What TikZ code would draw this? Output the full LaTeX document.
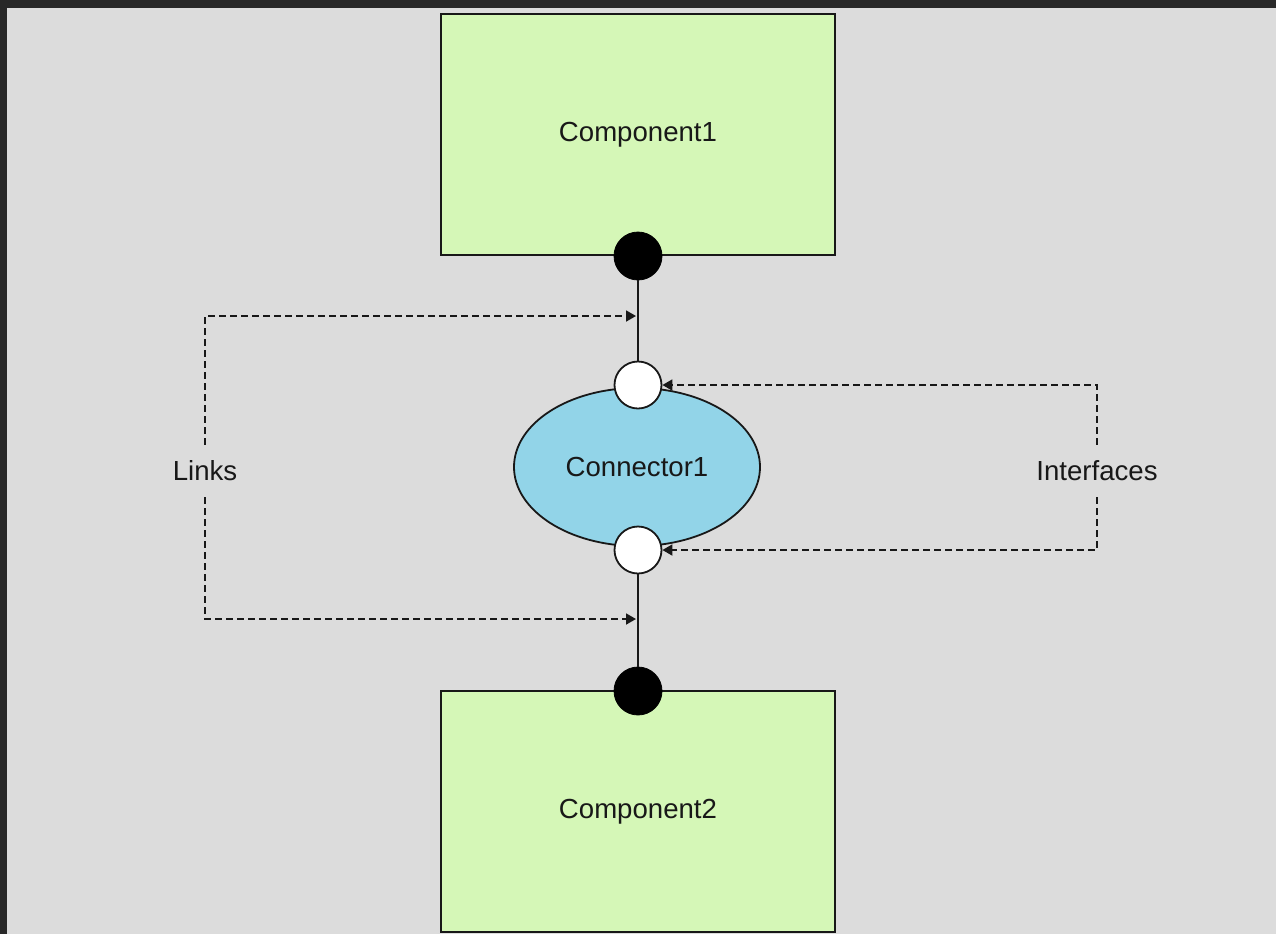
\documentclass[tikz,border=0pt]{standalone}
\usepackage{fontspec}
\setmainfont{Liberation Sans}
\usetikzlibrary{shapes.geometric,arrows.meta}
\definecolor{frame}{RGB}{40,40,40}
\definecolor{canvas}{RGB}{220,220,220}
\definecolor{compfill}{RGB}{213,247,183}
\definecolor{connfill}{RGB}{146,212,232}
\definecolor{ink}{RGB}{24,24,24}

\begin{document}
\begin{tikzpicture}[x=0.5pt,y=-0.5pt,
  every node/.style={font=\fontsize{13.8}{16}\selectfont, text=ink},
  compbox/.style={rectangle, draw=ink, line width=1.1pt, fill=compfill,
    minimum width=197pt, minimum height=120.5pt, inner sep=0pt},
  port/.style={circle, fill=black, draw=black, minimum size=24pt, inner sep=0pt},
  iface/.style={circle, fill=white, draw=ink, line width=0.9pt,
    minimum size=23.5pt, inner sep=0pt},
  connshape/.style={ellipse, draw=ink, line width=0.9pt, fill=connfill,
    minimum width=123pt, minimum height=79pt, inner sep=0pt},
  wire/.style={draw=ink, line width=1pt},
  hint/.style={draw=ink, line width=0.9pt, dash pattern=on 3.5pt off 2pt,
    -{Triangle[length=5pt,width=5.5pt]}},
  tag/.style={inner sep=0pt, minimum height=26pt}
]
% page frame and canvas
\useasboundingbox (0,0) rectangle (1276,934);
\fill[frame] (0,0) rectangle (1276,934);
\fill[canvas] (7,8) rectangle (1276,934);

% components and connector
\node[compbox] (comp1) at (638,134.5) {Component1};
\node[compbox] (comp2) at (638,811.5) {Component2};
\node[connshape] (conn) at (637,467) {Connector1};

% ports on the components, interfaces on the connector
\node[port] (p1) at (638,256) {};
\node[port] (p2) at (638,691) {};
\node[iface] (i1) at (638,385) {};
\node[iface] (i2) at (638,550) {};

% links between ports and interfaces
\draw[wire] (p1) -- (i1);
\draw[wire] (i2) -- (p2);

% annotations
\coordinate (lt) at (636,316);
\coordinate (lb) at (636,619);
\node[tag] (links) at (205,471) {Links};
\node[tag] (ifc) at (1097,471) {Interfaces};

\draw[hint] (links.north) |- (lt);
\draw[hint] (links.south) |- (lb);
\draw[hint] (ifc.north) |- (i1.east);
\draw[hint] (ifc.south) |- (i2.east);
\end{tikzpicture}
\end{document}
